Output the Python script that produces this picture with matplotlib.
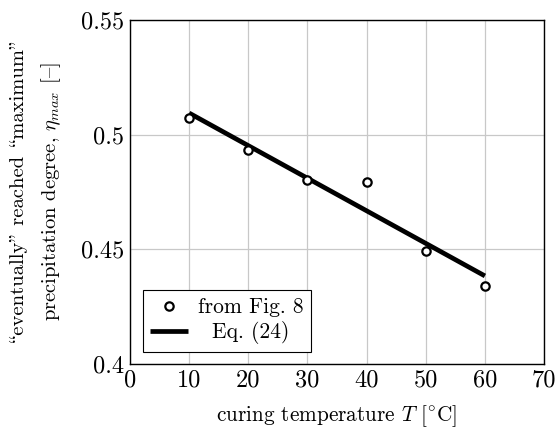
import matplotlib
matplotlib.use("Agg")
import matplotlib.pyplot as plt

# Data
T_points = [10, 20, 30, 40, 50, 60]
eta_points = [0.5073, 0.4933, 0.4802, 0.4793, 0.4493, 0.4340]
T_line = [10, 60]
eta_line = [0.5094, 0.4384]
xticks = [0, 10, 20, 30, 40, 50, 60, 70]
yticks = [0.4, 0.45, 0.5, 0.55]
yticklabels = ["0.4", "0.45", "0.5", "0.55"]

plt.rcParams['font.family'] = ['cmr10', 'DejaVu Serif']
plt.rcParams['mathtext.fontset'] = 'cm'
plt.rcParams['axes.unicode_minus'] = False

fig = plt.figure(figsize=(5.58, 4.29), dpi=100)
ax = fig.add_axes([0.233, 0.1515, 0.742, 0.802])

ax.plot(T_points, eta_points, linestyle='none', marker='o', markersize=6,
        markerfacecolor='white', markeredgecolor='black', markeredgewidth=1.6,
        label='from Fig. 8', zorder=3)
ax.plot(T_line, eta_line, color='black', linewidth=3.4, label='Eq. (24)', zorder=2,
        solid_capstyle='butt')

ax.set_xlim(0, 70)
ax.set_ylim(0.4, 0.55)
ax.set_xticks(xticks)
ax.set_xticklabels([str(t) for t in xticks])
ax.set_yticks(yticks)
ax.set_yticklabels(yticklabels)
ax.tick_params(axis='both', labelsize=17.5, direction='in', length=0, pad=4)
ax.grid(True, color='#c8c8c8', linewidth=0.9)
ax.set_axisbelow(True)
for s in ax.spines.values():
    s.set_linewidth(1.0)

# OT1 encoding in cmr10: '\\' -> opening quotes, '"' -> closing quotes, '{' -> en dash
ax.set_xlabel(r'curing temperature $T$ [$^{\circ}$C]', fontsize=15.3, labelpad=8)
ax.set_ylabel('\\eventually" reached \\maximum"\nprecipitation degree, $\\eta_{max}$ [{]',
              fontsize=14.8, linespacing=1.65)
ax.yaxis.set_label_coords(-0.162, 0.5)

leg = ax.legend(loc='lower left', bbox_to_anchor=(0.031, 0.035), borderaxespad=0,
                fontsize=15.5, frameon=True, fancybox=False, edgecolor='black',
                framealpha=1, handlelength=1.75, borderpad=0.35, labelspacing=0.2,
                handletextpad=0.45)
leg.get_frame().set_linewidth(0.8)

# centre legend entries like pgfplots
fig.canvas.draw()
r = fig.canvas.get_renderer()
texts = leg.get_texts()
widths = [t.get_window_extent(r).width for t in texts]
wmax = max(widths)
for t, w in zip(texts, widths):
    t.set_x((wmax - w) / 2)

fig.savefig('out.png', dpi=100)
